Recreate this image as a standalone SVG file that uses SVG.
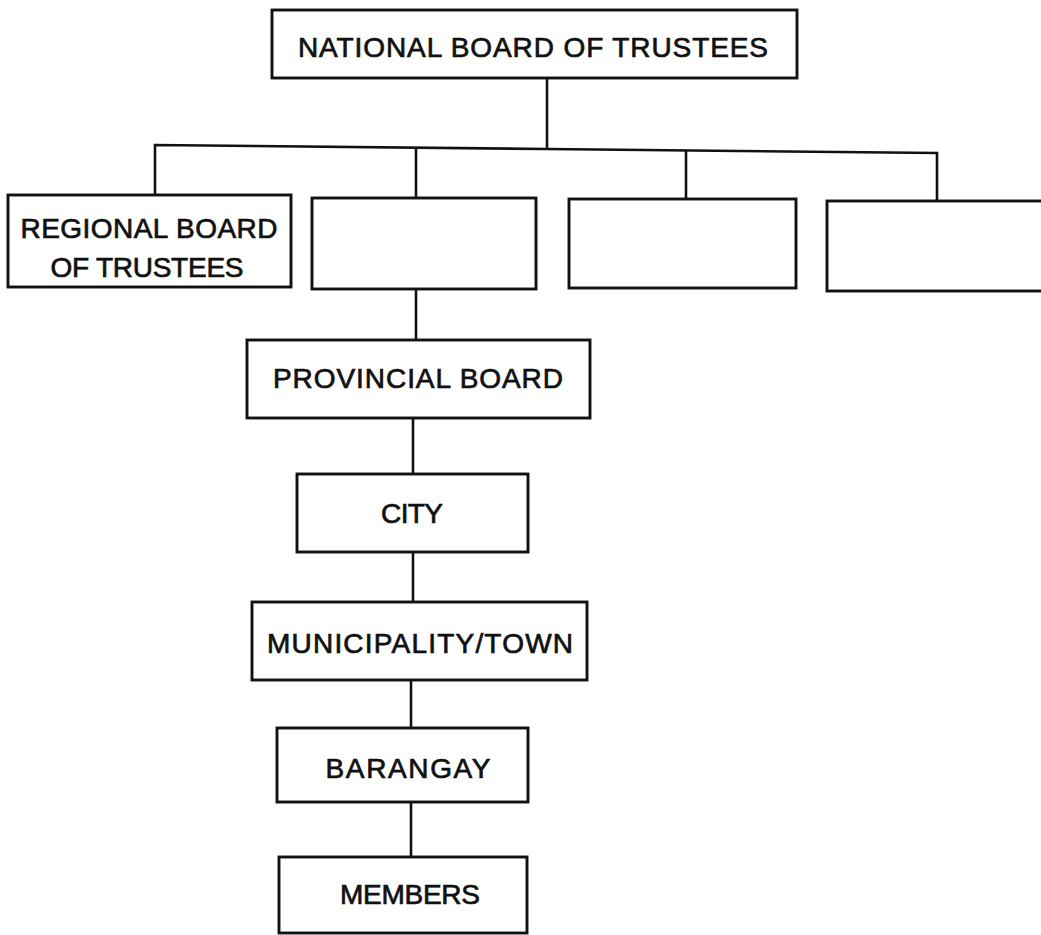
<svg xmlns="http://www.w3.org/2000/svg" width="1041" height="935" viewBox="0 0 1041 935">
<style>
  .box { fill: #fff; stroke: #111; stroke-width: 2.9; }
  .lbl { font-family: "Liberation Sans", Arial, sans-serif; font-size: 28px; fill: #111; stroke: #111; stroke-width: 0.7; text-anchor: middle; }
  .con { fill: none; stroke: #111; stroke-width: 2.6; }
</style>
<rect width="1041" height="935" fill="#fff"/>
<g id="connectors">
  <line class="con" x1="547" y1="78" x2="547" y2="149"/>
  <polyline class="con" points="155,196 155,145 547,149 937,153 937,201"/>
  <line class="con" x1="416" y1="147" x2="416" y2="198"/>
  <line class="con" x1="686" y1="151" x2="686" y2="199"/>
  <line class="con" x1="416" y1="289" x2="416" y2="340"/>
  <line class="con" x1="413" y1="418" x2="413" y2="474"/>
  <line class="con" x1="413" y1="552" x2="413" y2="602"/>
  <line class="con" x1="411" y1="680" x2="411" y2="728"/>
  <line class="con" x1="411" y1="802" x2="411" y2="857"/>
</g>
<g id="national">
  <rect class="box" x="272" y="10" width="525" height="68"/>
  <text class="lbl" x="533" y="57" textLength="470">NATIONAL BOARD OF TRUSTEES</text>
</g>
<g id="regional">
  <rect class="box" x="8" y="195" width="283" height="92"/>
  <text class="lbl" x="149" y="238" textLength="257">REGIONAL BOARD</text>
  <text class="lbl" x="147" y="277" textLength="193">OF TRUSTEES</text>
</g>
<g id="region2">
  <rect class="box" x="312" y="198" width="224" height="91"/>
</g>
<g id="region3">
  <rect class="box" x="569" y="199" width="227" height="89"/>
</g>
<g id="region4">
  <rect class="box" x="827" y="201" width="230" height="90"/>
</g>
<g id="provincial">
  <rect class="box" x="247" y="340" width="343" height="78"/>
  <text class="lbl" x="418" y="388" textLength="290">PROVINCIAL BOARD</text>
</g>
<g id="city">
  <rect class="box" x="297" y="474" width="231" height="78"/>
  <text class="lbl" x="412" y="523" textLength="62">CITY</text>
</g>
<g id="municipality">
  <rect class="box" x="252" y="602" width="335" height="78"/>
  <text class="lbl" x="420" y="653" textLength="306">MUNICIPALITY/TOWN</text>
</g>
<g id="barangay">
  <rect class="box" x="277" y="728" width="251" height="74"/>
  <text class="lbl" x="408" y="778" textLength="165">BARANGAY</text>
</g>
<g id="members">
  <rect class="box" x="279" y="857" width="248" height="76"/>
  <text class="lbl" x="410" y="904" textLength="140">MEMBERS</text>
</g>
</svg>
